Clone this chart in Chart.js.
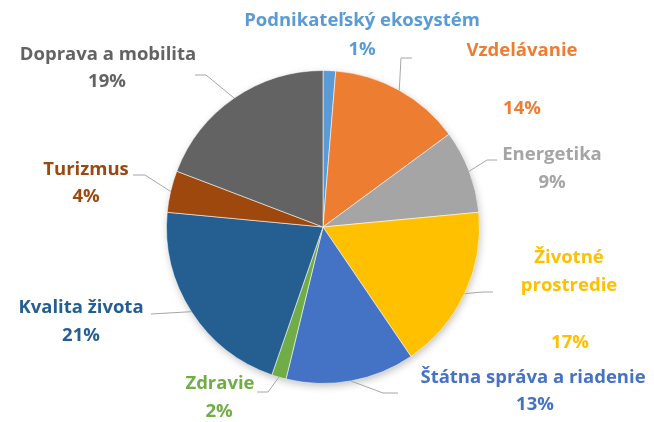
<!DOCTYPE html>
<html>
<head>
<meta charset="utf-8">
<script src="https://cdn.jsdelivr.net/npm/chart.js@4/dist/chart.umd.min.js"></script>
<style>
  html, body { margin: 0; padding: 0; background: #fff; }
  #wrap { width: 654px; height: 422px; }
</style>
</head>
<body>
<div id="wrap"><canvas id="pieChart" width="654" height="422"></canvas></div>
<script>
const categories = ['Podnikateľský ekosystém', 'Vzdelávanie', 'Energetika', 'Životné prostredie',
    'Štátna správa a riadenie', 'Zdravie', 'Kvalita života', 'Turizmus', 'Doprava a mobilita'];
const shares = [1.3, 13.6, 8.6, 17.0, 13.3, 1.5, 21.2, 4.3, 19.2];
const colors = ['#5B9BD5', '#ED7D31', '#A5A5A5', '#FFC000', '#4472C4', '#70AD47', '#255E91', '#9E480E', '#636363'];

// label placement (text centres), name lines + percent line
const nameLines = [['Podnikateľský ekosystém'], ['Vzdelávanie'], ['Energetika'], ['Životné', 'prostredie'],
    ['Štátna správa a riadenie'], ['Zdravie'], ['Kvalita života'], ['Turizmus'], ['Doprava a mobilita']];
const namePos = [[362, 21], [522, 51], [552, 155], [569, 258], [533, 378], [220, 384], [81, 308], [86, 170], [108, 55]];
const pctPos = [[362, 50], [522, 109], [552, 183], [570, 343], [535, 405], [219, 412], [81, 336], [86, 197], [107, 82]];
// leader lines: points after the pie edge
const leaders = [
    null,
    [[401, 58], [412, 58]],
    [[487, 160], [497, 160]],
    [[483, 292], [493, 292]],
    [[383, 393], [398, 393]],
    [[268, 392], [257, 392]],
    [[151, 314]],
    [[145, 175], [133, 175]],
    [[206, 75], [195, 75]]
];

const FONT = 'bold 18.5px "Open Sans", "DejaVu Sans", sans-serif';

const shadowPlugin = {
    id: 'pieShadow',
    beforeDatasetsDraw(chart) {
        const arc = chart.getDatasetMeta(0).data[0];
        if (!arc) return;
        const ctx = chart.ctx;
        ctx.save();
        ctx.shadowColor = 'rgba(0,0,0,0.28)';
        ctx.shadowBlur = 9;
        ctx.shadowOffsetX = 1;
        ctx.shadowOffsetY = 3;
        ctx.fillStyle = '#ffffff';
        ctx.beginPath();
        ctx.arc(arc.x, arc.y, arc.outerRadius - 1, 0, Math.PI * 2);
        ctx.fill();
        ctx.restore();
    }
};

const labelPlugin = {
    id: 'sliceLabels',
    afterDatasetsDraw(chart) {
        const ctx = chart.ctx;
        const arcs = chart.getDatasetMeta(0).data;
        ctx.save();

        // leader lines
        ctx.strokeStyle = '#A6A6A6';
        ctx.lineWidth = 1;
        arcs.forEach((arc, i) => {
            if (!leaders[i]) return;
            const mid = (arc.startAngle + arc.endAngle) / 2;
            ctx.beginPath();
            ctx.moveTo(arc.x + Math.cos(mid) * arc.outerRadius, arc.y + Math.sin(mid) * arc.outerRadius);
            leaders[i].forEach(p => ctx.lineTo(p[0], p[1]));
            ctx.stroke();
        });

        // texts
        ctx.font = FONT;
        ctx.textAlign = 'center';
        ctx.textBaseline = 'middle';
        categories.forEach((c, i) => {
            ctx.fillStyle = colors[i];
            nameLines[i].forEach((line, k) => {
                ctx.fillText(line, namePos[i][0], namePos[i][1] + k * 28);
            });
            ctx.fillText(Math.round(shares[i]) + '%', pctPos[i][0], pctPos[i][1]);
        });
        ctx.restore();
    }
};

const ctx = document.getElementById('pieChart').getContext('2d');
const chart = new Chart(ctx, {
    type: 'pie',
    data: {
        labels: categories,
        datasets: [{
            data: shares,
            backgroundColor: colors,
            borderColor: 'rgba(255,255,255,0.55)',
            borderWidth: 1
        }]
    },
    options: {
        responsive: false,
        animation: false,
        layout: {
            padding: { top: 70, bottom: 38, left: 166, right: 174 }
        },
        plugins: {
            legend: { display: false },
            tooltip: { enabled: false }
        }
    },
    plugins: [shadowPlugin, labelPlugin]
});
</script>
</body>
</html>
